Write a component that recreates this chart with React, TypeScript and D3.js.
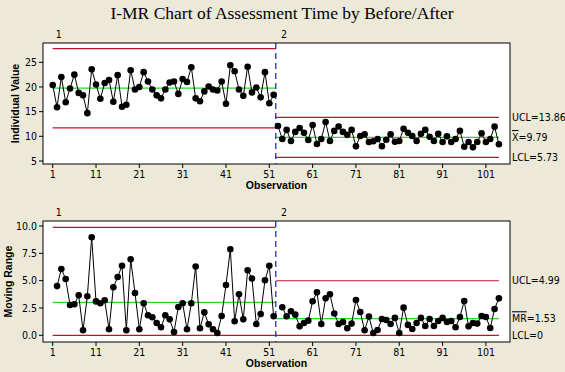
import React from 'react';
import * as d3 from 'd3';

// individual values, per stage
const stageNames = ['1', '2'];
const stageStarts = [1, 53];
const individuals1 = [
  20.4, 15.9, 22.0, 16.9, 19.7, 22.5, 18.8, 18.3, 14.7, 23.6,
  20.5, 17.6, 20.8, 21.4, 17.0, 22.4, 16.0, 16.4, 23.4, 19.5,
  20.0, 23.0, 21.1, 19.5, 18.3, 17.7, 19.5, 20.9, 21.1, 18.6,
  21.6, 21.0, 24.0, 17.7, 17.1, 19.1, 20.1, 19.5, 19.3, 21.1,
  16.6, 24.4, 23.2, 19.5, 18.2, 24.1, 18.9, 19.9, 17.9, 23.0,
  16.7, 18.4,
];
const individuals2 = [
  12.1, 9.46, 11.3, 9.05, 10.9, 11.7, 10.7, 9.26, 12.3, 8.45,
  9.46, 12.9, 9.05, 11.1, 12.0, 10.9, 10.3, 11.3, 7.97, 10.07,
  10.4, 8.85, 8.99, 9.46, 8.0, 9.3, 10.4, 8.9, 9.05, 11.55,
  10.7, 10.07, 9.05, 10.5, 11.3, 9.9, 9.05, 10.5, 8.85, 10.0,
  8.85, 9.46, 11.1, 7.9, 8.85, 7.77, 8.85, 10.6, 8.85, 9.46,
  11.96, 8.4,
];
// moving ranges, starting at the 2nd observation of each stage
const movingRanges1 = [
  4.5, 6.07, 5.15, 2.77, 2.84, 3.66, 0.46, 3.57, 8.96, 3.1,
  2.93, 3.2, 0.55, 4.39, 5.33, 6.37, 0.46, 6.95, 3.87, 0.55,
  2.93, 1.83, 1.65, 1.13, 0.73, 1.83, 1.46, 0.3, 2.59, 2.93,
  0.55, 2.93, 6.3, 0.64, 2.1, 1.0, 0.55, 0.21, 1.77, 4.6,
  7.87, 1.28, 3.75, 1.46, 5.95, 5.2, 1.04, 1.95, 5.03, 6.37,
  1.74,
];
const movingRanges2 = [
  2.56, 1.74, 2.2, 1.89, 0.82, 1.13, 1.34, 3.11, 3.93, 1.04,
  3.38, 3.75, 2.0, 1.04, 1.22, 0.64, 1.07, 3.23, 2.13, 0.46,
  1.71, 0.21, 0.49, 1.49, 1.4, 1.04, 1.59, 0.21, 2.53, 0.95,
  0.58, 1.13, 1.59, 0.85, 1.49, 0.85, 1.31, 1.59, 1.22, 1.31,
  0.73, 1.68, 3.14, 0.82, 1.13, 1.07, 1.77, 1.68, 0.67, 2.41,
  3.38,
];

// control limits per stage
const iCenter = [19.75, 9.79];
const iUCL = [27.78, 13.86];
const iLCL = [11.72, 5.73];
const mrCenter = [3.02, 1.53];
const mrUCL = [9.87, 4.99];
const mrLCL = [0, 0];

const iTicks = [5, 10, 15, 20, 25];
const mrTicks = [0, 2.5, 5, 7.5, 10];
const xTicks = [1, 11, 21, 31, 41, 51, 61, 71, 81, 91, 101];
const nObs = 104;

const BG = '#ECE9D8';
const RED = '#C3102F';
const GREEN = '#22DD22';
const BLUE = '#1020A0';
const FONT = '"Liberation Sans Narrow", "DejaVu Sans Condensed", sans-serif';
const BOLD = '"Liberation Sans", Arial, sans-serif';

const left = 43;
const right = 510;
const x = d3.scaleLinear().domain([1, nObs]).range([52.7, 498.9]);
const stageEdges = [1, stageStarts[1] - 0.5, nObs];

type Series = { start: number; values: number[] };

function Panel({ top, bottom, y, ticks, fmt, series, center, ucl, lcl, yLabel, yLabelX, labels }: {
  top: number; bottom: number; y: d3.ScaleLinear<number, number>; ticks: number[];
  fmt: (v: number) => string; series: Series[]; center: number[]; ucl: number[]; lcl: number[];
  yLabel: string; yLabelX: number; labels: React.ReactNode[];
}) {
  const line = d3.line<[number, number]>().x(d => x(d[0])).y(d => y(d[1]));
  const splitX = x(stageEdges[1]);
  return (
    <g>
      <rect x={left} y={top} width={right - left} height={bottom - top} fill="#fff" stroke="#000" />
      {stageNames.map((s, i) => (
        <text key={s} x={x(stageStarts[i]) + 3} y={top - 5} fontFamily={FONT} fontSize={10.5}>{s}</text>
      ))}
      {[0, 1].map(i => {
        const x0 = x(stageEdges[i]);
        const x1 = x(stageEdges[i + 1]);
        return (
          <g key={i}>
            <line x1={x0} x2={x1} y1={y(ucl[i])} y2={y(ucl[i])} stroke={RED} strokeWidth={1.2} />
            <line x1={x0} x2={x1} y1={y(lcl[i])} y2={y(lcl[i])} stroke={RED} strokeWidth={1.2} />
            <line x1={x0} x2={x1} y1={y(center[i])} y2={y(center[i])} stroke={GREEN} strokeWidth={1.2} />
          </g>
        );
      })}
      <line x1={splitX} x2={splitX} y1={top} y2={bottom} stroke={BLUE} strokeWidth={1.2} strokeDasharray="6,4" />
      {series.map((s, i) => {
        const pts = s.values.map((v, j) => [s.start + j, v] as [number, number]);
        return (
          <g key={i}>
            <path d={line(pts) || ''} fill="none" stroke="#000" strokeWidth={1} />
            {pts.map((p, j) => <circle key={j} cx={x(p[0])} cy={y(p[1])} r={3.3} fill="#000" />)}
          </g>
        );
      })}
      {ticks.map(t => (
        <g key={t}>
          <line x1={left - 4} x2={left} y1={y(t)} y2={y(t)} stroke="#000" />
          <text x={left - 6} y={y(t)} dy="0.35em" textAnchor="end" fontFamily={FONT} fontSize={10.5}>{fmt(t)}</text>
        </g>
      ))}
      {xTicks.map(t => (
        <g key={t}>
          <line x1={x(t)} x2={x(t)} y1={bottom} y2={bottom + 4} stroke="#000" />
          <text x={x(t)} y={bottom + 14} textAnchor="middle" fontFamily={FONT} fontSize={10.5}>{t}</text>
        </g>
      ))}
      <text x={(left + right) / 2} y={bottom + 25} textAnchor="middle" fontFamily={BOLD} fontWeight="bold" fontSize={10.5}>Observation</text>
      <text transform={`translate(${yLabelX},${(top + bottom) / 2}) rotate(-90)`} textAnchor="middle" fontFamily={BOLD} fontWeight="bold" fontSize={10.5}>{yLabel}</text>
      {[ucl[1], center[1], lcl[1]].map((v, i) => (
        <text key={i} x={right + 2} y={y(v)} dy="0.35em" fontFamily={FONT} fontSize={10.5}>{labels[i]}</text>
      ))}
    </g>
  );
}

export default function App() {
  const yI = d3.scaleLinear().domain([5, 25]).range([161, 62.3]);
  const yMR = d3.scaleLinear().domain([0, 10]).range([335.3, 226]);
  return (
    <svg width={565} height={372} style={{ position: 'absolute', left: 0, top: 0, background: BG }}>
      <rect width={565} height={372} fill={BG} />
      <text x={282} y={19} textAnchor="middle" fontFamily='"Liberation Serif", serif' fontSize={17.5}>
        I-MR Chart of Assessment Time by Before/After
      </text>
      <Panel top={43} bottom={164} y={yI} ticks={iTicks} fmt={d => String(d)}
        series={[{ start: stageStarts[0], values: individuals1 }, { start: stageStarts[1], values: individuals2 }]}
        center={iCenter} ucl={iUCL} lcl={iLCL} yLabel="Individual Value" yLabelX={18.5}
        labels={[`UCL=${iUCL[1]}`, <><tspan textDecoration="overline">X</tspan>{`=${iCenter[1]}`}</>, `LCL=${iLCL[1]}`]} />
      <Panel top={221} bottom={342} y={yMR} ticks={mrTicks} fmt={d3.format('.1f')}
        series={[{ start: stageStarts[0] + 1, values: movingRanges1 }, { start: stageStarts[1] + 1, values: movingRanges2 }]}
        center={mrCenter} ucl={mrUCL} lcl={mrLCL} yLabel="Moving Range" yLabelX={11.5}
        labels={[`UCL=${mrUCL[1]}`, <><tspan textDecoration="overline">MR</tspan>{`=${mrCenter[1]}`}</>, `LCL=${mrLCL[1]}`]} />
    </svg>
  );
}
